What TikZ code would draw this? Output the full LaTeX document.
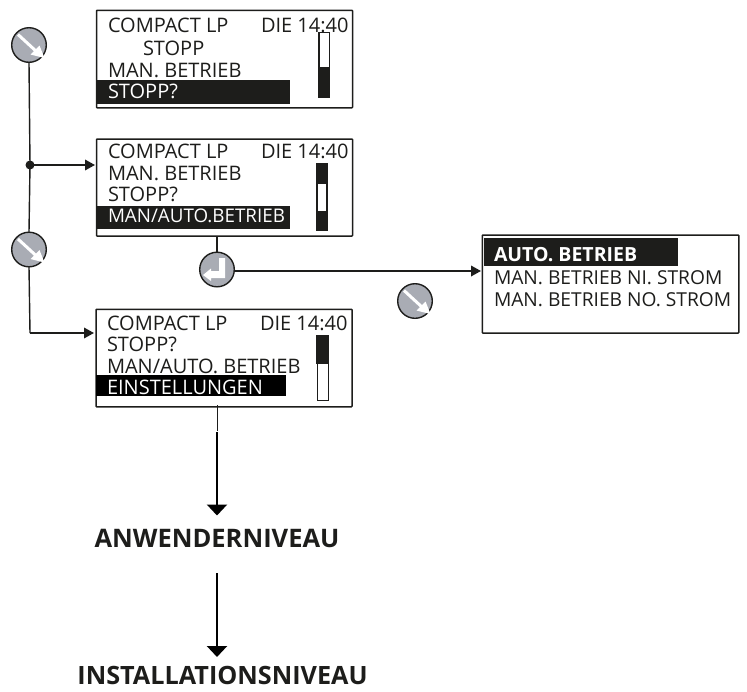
\documentclass[tikz,border=0pt]{standalone}
\usepackage{fontspec}
\setmainfont{Open Sans}
\usetikzlibrary{arrows.meta,calc}
\definecolor{ink}{HTML}{1D1D1B}
\definecolor{keygrey}{HTML}{A9ACB4}
\tikzset{
  x=1pt,y=-1pt,
  lcd/.style={draw=ink,line width=1.5pt,rounded corners=0.6pt,fill=white},
  lbl/.style={anchor=base west,inner sep=0pt,outer sep=0pt,text=ink,font=\fontsize{20}{24}\selectfont},
  lblb/.style={lbl,font=\fontsize{19.2}{24}\selectfont},
  sel/.style={lbl,text=white},
  big/.style={anchor=base,inner sep=0pt,text=ink,font=\bfseries\fontsize{25.5}{30}\selectfont},
  key/.style={circle,draw=ink,line width=1.4pt,fill=keygrey,minimum size=34.6pt,inner sep=0pt,outer sep=0pt},
  conn/.style={draw=ink,line width=1.4pt},
  flow/.style={draw=ink,line width=1.9pt,-{Triangle[length=10pt,width=10.5pt]}},
  level/.style={draw=black,line width=2.3pt,-{Triangle[length=11pt,width=20pt]}},
  barfill/.style={fill=ink,draw=none},
  barframe/.style={draw=ink,line width=1pt,fill=white},
}
\newcommand{\downkey}[1]{%
  \draw[white,line width=3pt] ($(#1)+(-11,-10.5)$) -- ($(#1)+(8,7)$);
  \fill[white] ($(#1)+(15.5,13)$) -- ($(#1)+(1.5,9.5)$) -- ($(#1)+(10.5,0.5)$) -- cycle;
}
\begin{document}
\begin{tikzpicture}
\useasboundingbox (0,0) rectangle (747,691);
% keys
\node[key] (k1) at (29,45) {};
\node[key] (k2) at (29,249.5) {};
\node[key] (k3) at (217,269.5) {};
\node[key] (k4) at (415,301) {};
\downkey{k1}\downkey{k2}\downkey{k4}
\fill[white] (219,258) -- (225,258) -- (225,278) -- (211,278) -- (211,281) -- (203,275) -- (211,268.5) -- (211,271) -- (219,271) -- cycle;
% boxes
\node[lcd,minimum width=256pt,minimum height=97.5pt,inner sep=0pt] (b1) at (224.5,59) {};
\node[lcd,minimum width=256pt,minimum height=97pt,inner sep=0pt] (b2) at (224.5,187.5) {};
\node[lcd,minimum width=256pt,minimum height=97.5pt,inner sep=0pt] (b3) at (224,358) {};
\node[lcd,minimum width=256.5pt,minimum height=98pt,inner sep=0pt] (b4) at (610.5,284) {};
% box 1
\fill[ink] (96,80) rectangle (290,104);
\node[lbl] (t11) at (108,32) {COMPACT LP};
\node[lbl] (t12) at (261,32) {DIE 14:40};
\node[lbl] (t13) at (143,55) {STOPP};
\node[lbl] (t14) at (108,77) {MAN. BETRIEB};
\node[sel] (t15) at (108,98) {STOPP?};
\fill[barfill] (318,32) rectangle (330,98);
\draw[barframe] (319,32) rectangle (329,67);
% box 2
\fill[ink] (96,206) rectangle (290,229);
\node[lbl] (t21) at (108,158) {COMPACT LP};
\node[lbl] (t22) at (261,158) {DIE 14:40};
\node[lbl] (t23) at (108,180) {MAN. BETRIEB};
\node[lbl] (t24) at (108,201) {STOPP?};
\node[sel,font=\fontsize{18.8}{24}\selectfont] (t25) at (108,222) {MAN/AUTO.BETRIEB};
\fill[barfill] (316,163) rectangle (328,231);
\draw[barframe] (317.5,183) rectangle (326.5,211);
% box 3
\fill[black] (96,375) rectangle (286,396);
\node[lbl] (t31) at (107,330) {COMPACT LP};
\node[lbl] (t32) at (260,330) {DIE 14:40};
\node[lbl] (t33) at (107,351) {STOPP?};
\node[lbl] (t34) at (107,373) {MAN/AUTO. BETRIEB};
\node[sel] (t35) at (107,394) {EINSTELLUNGEN};
\draw[barframe] (317,335) rectangle (328,400);
\fill[barfill] (316,335) rectangle (328.5,364);
% box 4
\fill[ink] (484,238) rectangle (678,266);
\node[sel,font=\bfseries\fontsize{19.5}{24}\selectfont] (t41) at (494,261) {AUTO. BETRIEB};
\node[lblb] (t42) at (494,284) {MAN. BETRIEB NI. STROM};
\node[lblb] (t43) at (494,306) {MAN. BETRIEB NO. STROM};
% junction and lines
\coordinate (j) at (30,165);
\coordinate (c3) at (30,333);
\fill[ink] (j) circle (4.5pt);
\draw[conn] (k1.south) -- (j) -- (k2.north);
\draw[flow] (j) -- (95,165);
\draw[conn] (k2.south) -- (c3);
\draw[flow] (c3) -- (94,333);
\draw[conn] (b2.south) ++(-7.5,0) -- (k3.north);
\coordinate (h1) at ($(k3.east)+(0,1.5)$);
\draw[flow] (h1) -- (481,271);
\coordinate (a0) at (217,405);
\coordinate (a1) at (217,432);
\coordinate (a2) at (217,515.5);
\coordinate (a3) at (217,573);
\coordinate (a4) at (217,657);
\draw[draw=ink,line width=0.7pt] (a0) -- (217,430.5);
\draw[level] (a1) -- (a2);
\node[big] (n1) at (217,547) {ANWENDERNIVEAU};
\draw[level] (a3) -- (a4);
\node[big,font=\bfseries\fontsize{25.2}{30}\selectfont] (n2) at (222.5,684.5) {INSTALLATIONSNIVEAU};
\end{tikzpicture}
\end{document}
